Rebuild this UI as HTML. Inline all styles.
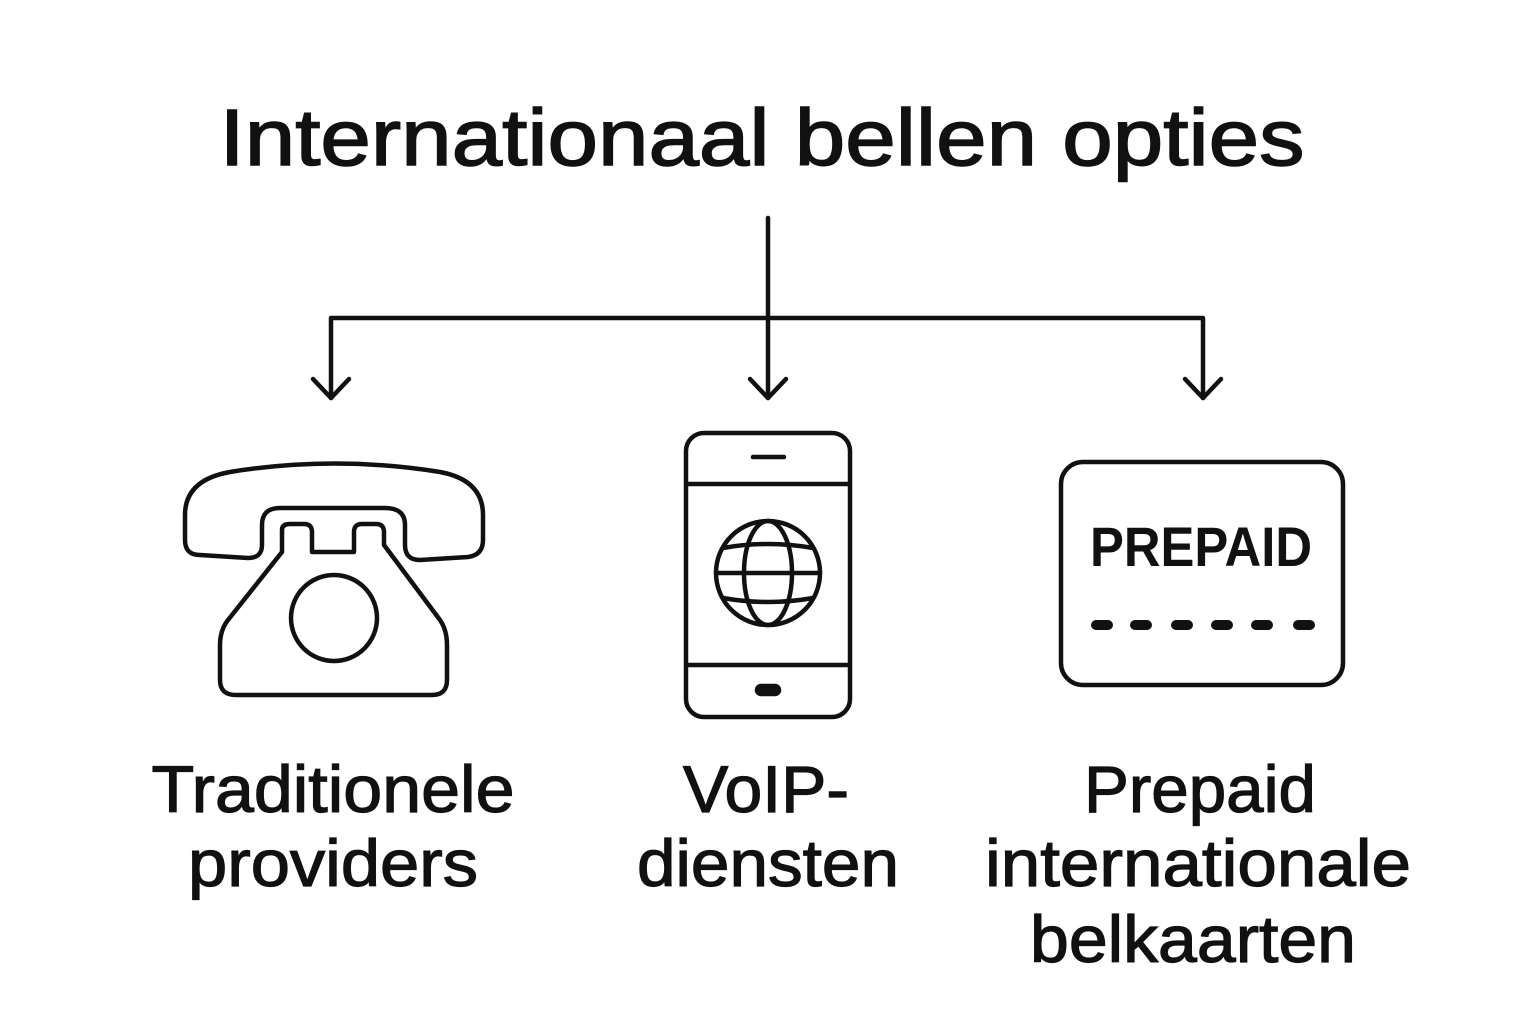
<!DOCTYPE html>
<html><head><meta charset="utf-8"><style>
html,body{margin:0;padding:0;background:#fff;}
svg{display:block;}
text{font-family:"Liberation Sans",sans-serif;fill:#111;}
</style></head><body>
<svg width="1536" height="1024" viewBox="0 0 1536 1024" xmlns="http://www.w3.org/2000/svg">
<rect width="1536" height="1024" fill="#fff"/>
<text x="762" y="165" font-size="80" text-anchor="middle" textLength="1085" lengthAdjust="spacingAndGlyphs" stroke="#111" stroke-width="1.5">Internationaal bellen opties</text>
<g stroke="#111" stroke-width="4.5" fill="none" stroke-linecap="round" stroke-linejoin="round">
<line x1="768" y1="218" x2="768" y2="398"/>
<polyline points="331,398 331,318 1203,318 1203,398"/>
<polyline points="313,379 331,398 349,379"/>
<polyline points="750,379 768,398 786,379"/>
<polyline points="1185,379 1203,398 1221,379"/>
</g>
<!-- telephone -->
<g stroke="#111" stroke-width="4.5" fill="none" stroke-linejoin="round" stroke-linecap="round">
<path d="M200,555 Q185,555 185,540 L185,515 Q185,480 230,472 Q334,455 440,472 Q483,480 483,515 L483,540 Q483,555 468,557 L420,560 Q405,560 405,545 L405,525 Q405,508 385,508 L280,508 Q262,508 262,525 L262,545 Q262,558 248,558 Z"/>
<path d="M282,540 L282,530 Q282,524 290,524 L304,524 Q312,524 312,532 L312,552 L354,552 L354,532 Q354,524 362,524 L376,524 Q384,524 384,532 L384,545 L440,620 Q447,630 447,645 L447,680 Q447,695 432,695 L236,695 Q220,695 220,680 L220,645 Q220,630 228,620 L282,552 Z"/>
<circle cx="334" cy="618" r="43"/>
</g>
<!-- mobile -->
<g stroke="#111" stroke-width="4.5" fill="none" stroke-linecap="round">
<rect x="686" y="433" width="164" height="284" rx="18"/>
<line x1="688" y1="484" x2="848" y2="484"/>
<line x1="688" y1="665" x2="848" y2="665"/>
<line x1="753" y1="457" x2="784" y2="457"/>
<rect x="757" y="686" width="22" height="8" rx="4" fill="#111"/>
<circle cx="768" cy="573" r="52"/>
<ellipse cx="768" cy="573" rx="24" ry="52"/>
<line x1="716" y1="573" x2="820" y2="573"/>
<path d="M723,548 Q768,540 813,548"/>
<path d="M723,598 Q768,606 813,598"/>
</g>
<!-- prepaid card -->
<g stroke="#111" stroke-width="4.5" fill="none">
<rect x="1061" y="462" width="282" height="223" rx="22"/>
</g>
<text x="1201" y="566" font-size="56" font-weight="bold" text-anchor="middle" textLength="222" lengthAdjust="spacingAndGlyphs">PREPAID</text>
<g stroke="#111" stroke-width="10" stroke-linecap="round">
<line x1="1096" y1="625" x2="1108" y2="625"/>
<line x1="1135" y1="625" x2="1147" y2="625"/>
<line x1="1176" y1="625" x2="1188" y2="625"/>
<line x1="1216" y1="625" x2="1228" y2="625"/>
<line x1="1256" y1="625" x2="1268" y2="625"/>
<line x1="1298" y1="625" x2="1310" y2="625"/>
</g>
<!-- labels -->
<g font-size="66" text-anchor="middle" stroke="#111" stroke-width="1.2">
<text x="333" y="812" textLength="363" lengthAdjust="spacingAndGlyphs">Traditionele</text>
<text x="333" y="886" textLength="290" lengthAdjust="spacingAndGlyphs">providers</text>
<text x="766" y="812" textLength="166" lengthAdjust="spacingAndGlyphs">VoIP-</text>
<text x="768" y="886" textLength="262" lengthAdjust="spacingAndGlyphs">diensten</text>
<text x="1200" y="812" textLength="232" lengthAdjust="spacingAndGlyphs">Prepaid</text>
<text x="1198" y="886" textLength="426" lengthAdjust="spacingAndGlyphs">internationale</text>
<text x="1193" y="962" textLength="326" lengthAdjust="spacingAndGlyphs">belkaarten</text>
</g>
</svg>
</body></html>
